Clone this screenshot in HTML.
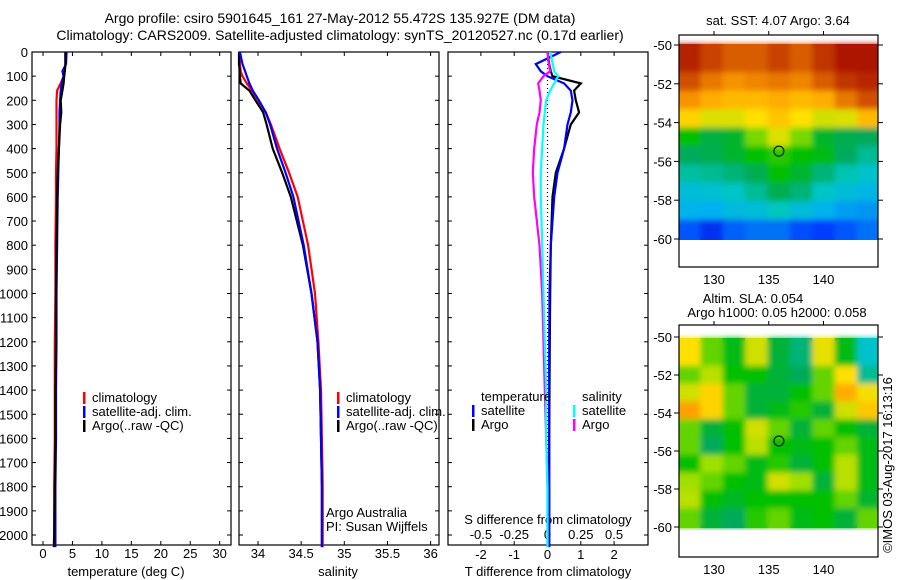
<!DOCTYPE html>
<html><head><meta charset="utf-8"><style>
body{margin:0;background:#fff}
svg{display:block;font-family:"Liberation Sans",sans-serif;font-size:13px}
</style></head><body>
<svg id="c" width="900" height="580" viewBox="0 0 900 580">
<defs>
<filter id="blur" x="-0.1" y="-0.1" width="1.2" height="1.2"><feGaussianBlur stdDeviation="3"/></filter>
<clipPath id="clipTop"><rect x="679" y="35" width="199" height="205"/></clipPath>
<clipPath id="clipBot"><rect x="679" y="325" width="199" height="205"/></clipPath>
</defs>
<text x="340" y="23" text-anchor="middle" font-size="14">Argo profile: csiro 5901645_161 27-May-2012 55.472S 135.927E (DM data)</text>
<text x="340" y="40" text-anchor="middle" font-size="14">Climatology: CARS2009. Satellite-adjusted climatology: synTS_20120527.nc (0.17d earlier)</text>
<g id="g"></g>
</svg>
<script>
// depth levels (m)
const depths = [0,50,80,100,130,160,200,250,300,400,500,600,800,1000,1200,1400,1600,1800,2000,2050];
// temperature (deg C)
const tClim = [3.8,3.8,3.7,3.5,3.0,2.4,2.3,2.3,2.3,2.3,2.2,2.2,2.1,2.1,2.0,2.0,2.0,1.9,1.9,1.8];
const tSat  = [4.0,3.9,3.3,3.5,3.2,3.0,2.9,2.8,2.8,2.7,2.6,2.5,2.4,2.3,2.3,2.2,2.2,2.1,2.1,2.1];
const tArgo = [3.8,3.8,3.7,3.6,3.5,3.3,3.0,3.1,2.9,2.7,2.5,2.4,2.3,2.2,2.2,2.1,2.1,2.0,1.9,1.9];
// salinity
const sClim = [33.79,33.79,33.8,33.82,33.87,33.93,34.0,34.09,34.15,34.25,34.36,34.46,34.58,34.66,34.70,34.73,34.74,34.75,34.75,34.75];
const sSat  = [33.79,33.82,33.85,33.87,33.9,33.94,34.01,34.09,34.14,34.22,34.32,34.41,34.53,34.62,34.69,34.72,34.73,34.74,34.74,34.74];
const sArgo = [33.78,33.78,33.79,33.79,33.8,33.9,33.97,34.06,34.1,34.17,34.28,34.38,34.52,34.62,34.69,34.72,34.73,34.74,34.74,34.74];
// differences from climatology
const dTsat  = [0.4,-0.35,-0.2,0.0,0.5,0.7,0.75,0.7,0.6,0.5,0.3,0.2,0.1,0.06,0.05,0.05,0.05,0.05,0.05,0.05];
const dTargo = [0.0,0.05,0.1,0.15,1.0,0.8,0.85,0.95,0.7,0.5,0.25,0.15,0.1,0.08,0.07,0.06,0.05,0.05,0.05,0.05];
const dSsat  = [0.02,0.04,0.05,0.08,0.05,0.02,-0.01,-0.02,-0.03,-0.04,-0.05,-0.05,-0.04,-0.03,-0.02,-0.01,-0.01,0.0,0.0,0.0];
const dSargo = [0.0,0.01,0.02,-0.03,-0.07,-0.06,-0.05,-0.06,-0.08,-0.1,-0.11,-0.1,-0.06,-0.04,-0.03,-0.02,-0.01,0.0,0.0,0.0];
// axis ticks
const depthTicks = [0,100,200,300,400,500,600,700,800,900,1000,1100,1200,1300,1400,1500,1600,1700,1800,1900,2000];
const tTicks = [0,5,10,15,20,25,30];
const sTicks = [34,34.5,35,35.5,36];
const dTTicks = [-2,-1,0,1,2];
const dSTicks = ["-0.5","-0.25","0","0.25","0.5"];
const latTicks = [-50,-52,-54,-56,-58,-60];
const lonTicks = [130,135,140];
// map grids (rows: north to south down to -60, cols: lon 126.8 .. 145), normalized colour value
const sstGrid = [
[0.95,0.9,0.86,0.86,0.9,0.86,0.92,0.97,0.97],
[0.88,0.82,0.78,0.8,0.82,0.8,0.86,0.92,0.94],
[0.78,0.74,0.72,0.72,0.74,0.72,0.74,0.82,0.88],
[0.68,0.63,0.63,0.66,0.7,0.66,0.62,0.63,0.72],
[0.5,0.44,0.46,0.56,0.63,0.56,0.46,0.43,0.42],
[0.42,0.43,0.46,0.5,0.52,0.5,0.48,0.42,0.38],
[0.37,0.38,0.4,0.43,0.5,0.46,0.4,0.36,0.33],
[0.31,0.32,0.34,0.38,0.43,0.4,0.34,0.31,0.29],
[0.28,0.27,0.3,0.31,0.35,0.31,0.28,0.25,0.24],
[0.17,0.12,0.18,0.2,0.2,0.16,0.14,0.17,0.2]];
const slaGrid = [
[0.66,0.55,0.48,0.62,0.45,0.4,0.64,0.48,0.33],
[0.55,0.6,0.5,0.5,0.45,0.42,0.55,0.66,0.38],
[0.62,0.68,0.55,0.45,0.45,0.5,0.55,0.74,0.65],
[0.76,0.68,0.55,0.45,0.48,0.52,0.45,0.62,0.7],
[0.55,0.45,0.5,0.62,0.55,0.45,0.55,0.5,0.45],
[0.55,0.42,0.5,0.6,0.5,0.48,0.5,0.55,0.48],
[0.5,0.58,0.55,0.48,0.52,0.45,0.5,0.6,0.48],
[0.58,0.55,0.5,0.48,0.62,0.58,0.45,0.6,0.48],
[0.6,0.5,0.47,0.5,0.5,0.5,0.5,0.55,0.46],
[0.55,0.45,0.42,0.52,0.55,0.48,0.5,0.45,0.55]];

const NS="http://www.w3.org/2000/svg", G=document.getElementById('g');
function mk(tag,attrs,parent){const e=document.createElementNS(NS,tag);for(const k in attrs)e.setAttribute(k,attrs[k]);(parent||G).appendChild(e);return e;}
function txt(x,y,s,anchor,parent){const e=mk('text',{x:x,y:y,'text-anchor':anchor||'start'},parent);e.textContent=s;return e;}
const yD = d => 52 + d*0.2415;
const xT = t => 43 + t*5.89;
const xS = s => 258 + (s-34)*86.3;
const xDT = v => 547.5 + v*33.3;
const xDS = v => 547.5 + v*133.2;
const TOPY=52, BOTY=545;

function panel(x0,x1,name){
  const r=mk('rect',{x:x0,y:TOPY,width:x1-x0,height:BOTY-TOPY,fill:'none',stroke:'#000','stroke-width':1.2});
  
  
}
function line(xs,ys,color,name,dash){
  const pts=xs.map((v,i)=>v.toFixed(1)+','+ys[i].toFixed(1)).join(' ');
  const p=mk('polyline',{points:pts,fill:'none',stroke:color,'stroke-width':dash?1.2:2.2,'stroke-dasharray':dash||'none'});
  
  
}
function vtick(x,len){mk('line',{x1:x,y1:BOTY,x2:x,y2:BOTY-len,stroke:'#000'});mk('line',{x1:x,y1:TOPY,x2:x,y2:TOPY+len,stroke:'#000'});}
function htick(x0,x1,y){mk('line',{x1:x0,y1:y,x2:x0+4,y2:y,stroke:'#000'});mk('line',{x1:x1,y1:y,x2:x1-4,y2:y,stroke:'#000'});}
function legendEntry(x,y,color,label,name){
  const gg=mk('g',{});
  
  
  mk('rect',{x:x,y:y-10,width:2.5,height:12,fill:color},gg);
  txt(x+9,y,label,'start',gg);
}

// Panel 1 temperature
panel(32,231,'temperature-panel');
depthTicks.forEach(d=>{htick(32,231,yD(d));const t=txt(28,yD(d)+5,String(d),'end');});
tTicks.forEach(t=>{vtick(xT(t),4);txt(xT(t),558,String(t),'middle');});
const yy=depths.map(yD);
line(tClim.map(xT),yy,'#f00','temp-climatology-line');
line(tSat.map(xT),yy,'#00f','temp-satellite-line');
line(tArgo.map(xT),yy,'#000','temp-argo-line');
txt(126,576,'temperature (deg C)','middle');
legendEntry(83,402,'#f00','climatology','legend-climatology');
legendEntry(83,416,'#00f','satellite-adj. clim.','legend-satellite');
legendEntry(83,430,'#000','Argo(..raw -QC)','legend-argo');

// Panel 2 salinity
panel(239,439,'salinity-panel');
depthTicks.forEach(d=>htick(239,439,yD(d)));
sTicks.forEach(s=>{vtick(xS(s),4);txt(xS(s),558,String(s),'middle');});
line(sClim.map(xS),yy,'#f00','sal-climatology-line');
line(sArgo.map(xS),yy,'#000','sal-argo-line');
line(sSat.map(xS),yy,'#00f','sal-satellite-line');
txt(338,576,'salinity','middle');
legendEntry(337,402,'#f00','climatology','legend-climatology-2');
legendEntry(337,416,'#00f','satellite-adj. clim.','legend-satellite-2');
legendEntry(337,430,'#000','Argo(..raw -QC)','legend-argo-2');
txt(326,517,'Argo Australia');
txt(326,531,'PI: Susan Wijffels');

// Panel 3 differences
panel(448,648,'difference-panel');
depthTicks.forEach(d=>htick(448,648,yD(d)));
dTTicks.forEach(v=>{vtick(xDT(v),4);txt(xDT(v),559,String(v),'middle');});
dSTicks.forEach((s,i)=>txt(xDT(dTTicks[i]),539,s,'middle'));
txt(548,524,'S difference from climatology','middle');
txt(548,576,'T difference from climatology','middle');
line([xDT(0),xDT(0)],[yD(0),yD(2000)],'#000','zero-line','1,3');
line(dTargo.map(xDT),yy,'#000','dT-argo-line');
line(dTsat.map(xDT),yy,'#00f','dT-satellite-line');
line(dSargo.map(xDS),yy,'#f0f','dS-argo-line');
line(dSsat.map(xDS),yy,'#0ff','dS-satellite-line');
txt(481,401,'temperature');
legendEntry(472,415,'#00f','satellite','legend-t-satellite');
legendEntry(472,429,'#000','Argo','legend-t-argo');
txt(582,401,'salinity');
legendEntry(573,415,'#0ff','satellite','legend-s-satellite');
legendEntry(573,429,'#f0f','Argo','legend-s-argo');

// colormap
const stops=[[0,[0,0,140]],[0.14,[0,60,255]],[0.27,[0,176,240]],[0.35,[0,200,190]],[0.42,[0,170,90]],[0.5,[0,192,0]],[0.58,[160,224,0]],[0.66,[255,224,0]],[0.76,[255,160,0]],[0.88,[208,80,0]],[1,[160,0,0]]];
function cmap(v){for(let i=1;i<stops.length;i++){if(v<=stops[i][0]){const a=stops[i-1],b=stops[i],f=(v-a[0])/(b[0]-a[0]);return 'rgb('+a[1].map((c,k)=>Math.round(c+(b[1][k]-c)*f)).join(',')+')';}}return 'rgb(160,0,0)';}

function drawMap(grid,boxTop,boxBot,latY50,scale,dataBot,clip,nm,circleLat){
  const lonX = lon => 714 + (lon-130)*10.95;
  const latY = lat => latY50 + (-50-lat)*scale;
  const gg=mk('g',{'clip-path':'url(#'+clip+')'});
  
  
  const base=mk('g',{},gg);
  const inner=mk('g',{filter:'url(#blur)'},gg);
  const nr=grid.length,nc=grid[0].length;
  const lat0=-50-(latY50-boxTop)/scale, lon0=126.8, lon1=145.2;
  const dlat=(lat0+60)/nr, dlon=(lon1-lon0)/nc;
  [base,inner].forEach(layer=>{
    for(let r=0;r<nr;r++)for(let c=0;c<nc;c++){
      let x=lonX(lon0+c*dlon), y=latY(lat0-r*dlat);
      let x2=lonX(lon0+(c+1)*dlon), y2=latY(lat0-(r+1)*dlat);
      if(r===0)y-=10; if(c===0)x-=10; if(c===nc-1)x2+=10;
      const cell=mk('rect',{x:x-1,y:y-1,width:x2-x+2,height:y2-y+2,fill:cmap(grid[r][c])},layer);
      
      
    }
  });
  mk('rect',{x:679,y:dataBot,width:200,height:boxBot-dataBot,fill:'#fff'});
  const b=mk('rect',{x:679,y:boxTop,width:199,height:boxBot-boxTop,fill:'none',stroke:'#000','stroke-width':1.2});
  
  
  latTicks.forEach(l=>{const y=latY(l);mk('line',{x1:679,y1:y,x2:674,y2:y,stroke:'#000'});mk('line',{x1:878,y1:y,x2:883,y2:y,stroke:'#000'});txt(672,y+5,String(l),'end');});
  lonTicks.forEach(l=>{const x=lonX(l);mk('line',{x1:x,y1:boxTop,x2:x,y2:boxTop-4,stroke:'#000'});txt(x,boxBot+17,String(l),'middle');});
  const c=mk('circle',{cx:lonX(135.927),cy:latY(circleLat),r:5,fill:'none',stroke:'#000'});
  
  
}
drawMap(sstGrid,35,267,45,19.4,240,'clipTop','sst-map',-55.472);
drawMap(slaGrid,325,557,337,19,530,'clipBot','sla-map',-55.472);
txt(778,25,'sat. SST: 4.07 Argo: 3.64','middle');
txt(753,303,'Altim. SLA: 0.054','middle');
txt(777,317,'Argo h1000: 0.05 h2000: 0.058','middle');
const cr=txt(0,0,'©IMOS 03-Aug-2017 16:13:16','middle');
cr.setAttribute('transform','translate(892,465) rotate(-90)');


</script>
</body></html>
